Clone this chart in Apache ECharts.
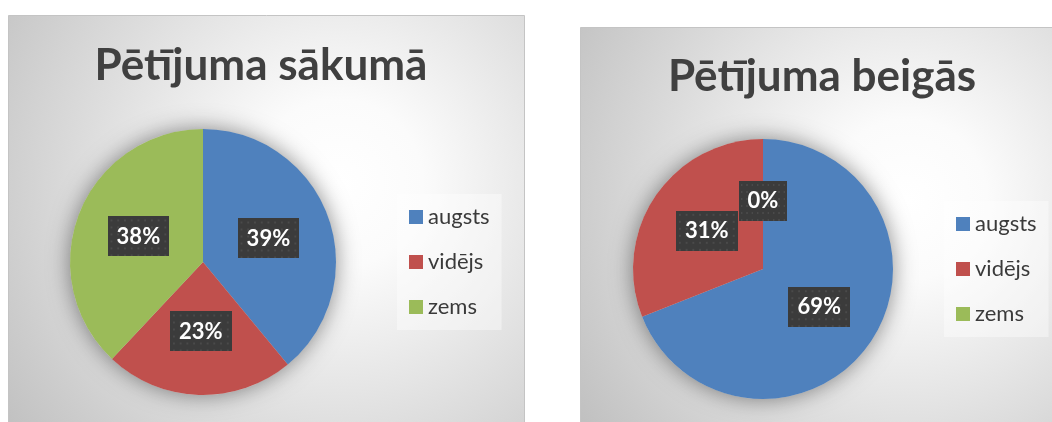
<!DOCTYPE html>
<html>
<head>
<meta charset="utf-8">
<script src="https://cdn.jsdelivr.net/npm/echarts@6/dist/echarts.min.js"></script>
<style>
  html, body { margin: 0; padding: 0; background: #fff; }
  #chart { width: 1052px; height: 422px; }
</style>
</head>
<body>
<div id="chart"></div>
<script>
  // dati
  const titles = ['Pētījuma sākumā', 'Pētījuma beigās']
  const categories = ['augsts', 'vidējs', 'zems']
  const startValues = [39, 23, 38]
  const endValues = [69, 31, 0]
  const colors = ['#4f81bd', '#c0504d', '#9bbb59']

  // punktots fons datu etiķetēm
  const pat = document.createElement('canvas')
  pat.width = 64
  pat.height = 40
  const ctx = pat.getContext('2d')
  ctx.fillStyle = '#3b3b3b'
  ctx.fillRect(0, 0, 64, 40)
  ctx.fillStyle = '#4a4a4a'
  for (let x = 3; x < 64; x += 7) {
    for (let y = 3; y < 40; y += 7) {
      ctx.fillRect(x, y, 2, 2)
    }
  }

  const font = 'Lato, "Open Sans", sans-serif'

  function toData(values) {
    return categories.map((name, i) => ({
      name: name,
      value: values[i],
      itemStyle: { color: colors[i] }
    }))
  }

  function pieSeries(values, center, radius) {
    return {
      type: 'pie',
      center: center,
      radius: radius,
      startAngle: 90,
      z: 3,
      emphasis: { disabled: true },
      labelLine: { show: false },
      label: {
        show: true,
        position: 'inside',
        formatter: p => Math.round(p.percent) + '%',
        color: '#fff',
        fontFamily: font,
        fontWeight: 'bold',
        fontSize: 22,
        lineHeight: 22,
        backgroundColor: { image: pat },
        padding: [9, 9, 9, 9],
        shadowColor: 'rgba(0,0,0,0.55)',
        shadowBlur: 6,
        shadowOffsetX: 3,
        shadowOffsetY: 3
      },
      data: toData(values)
    }
  }

  // ēna zem apļa
  function shadowSeries(center, radius) {
    return {
      type: 'pie',
      center: center,
      radius: radius,
      silent: true,
      z: 2,
      label: { show: false },
      labelLine: { show: false },
      itemStyle: {
        color: '#d0d0d0',
        shadowBlur: 22,
        shadowColor: 'rgba(0,0,0,0.45)'
      },
      data: [{ name: 'ēna', value: 1 }]
    }
  }

  function panel(x, y, w, h, cx, cy) {
    return {
      type: 'rect',
      z: -10,
      shape: { x: x, y: y, width: w, height: h },
      style: {
        fill: new echarts.graphic.RadialGradient(cx, cy, 1.0, [
          { offset: 0, color: '#ffffff' },
          { offset: 0.2, color: '#fbfbfb' },
          { offset: 1, color: '#bfbfbf' }
        ]),
        stroke: '#c4c4c4',
        lineWidth: 1
      }
    }
  }

  const legendBase = {
    orient: 'vertical',
    data: categories,
    icon: 'rect',
    itemWidth: 14,
    itemHeight: 14,
    itemGap: 23,
    padding: 12,
    backgroundColor: 'rgba(255,255,255,0.4)',
    selectedMode: false,
    textStyle: {
      fontFamily: font,
      fontSize: 22,
      lineHeight: 22,
      color: '#3a3a3a'
    }
  }

  const titleStyle = {
    fontFamily: font,
    fontWeight: 'bold',
    fontSize: 44,
    color: '#404040'
  }

  const chart = echarts.init(document.getElementById('chart'), null, { renderer: 'canvas' })
  chart.setOption({
    animation: false,
    graphic: [
      panel(8.5, 15.5, 516, 420, 0.64, 0.4),
      panel(580.5, 27.5, 480, 400, 0.68, 0.43)
    ],
    title: [
      { text: titles[0], left: 256, top: 39, textAlign: 'center', textStyle: titleStyle },
      { text: titles[1], left: 817, top: 50, textAlign: 'center', textStyle: titleStyle }
    ],
    legend: [
      Object.assign({}, legendBase, { left: 397, top: 194 }),
      Object.assign({}, legendBase, { left: 944, top: 201 })
    ],
    series: [
      shadowSeries([203, 262], 133),
      pieSeries(startValues, [203, 262], 133),
      shadowSeries([763, 269], 130),
      pieSeries(endValues, [763, 269], 130)
    ]
  })
</script>
</body>
</html>
